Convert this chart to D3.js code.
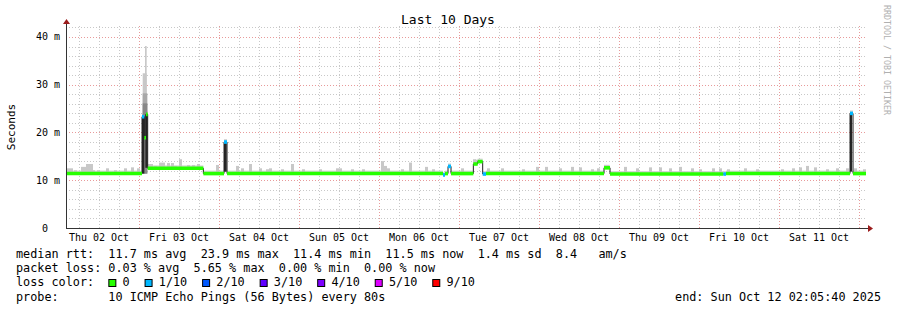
<!DOCTYPE html>
<html>
<head>
<meta charset="utf-8">
<script src="https://cdn.jsdelivr.net/npm/d3@7"></script>
<style>
  body { margin: 0; background: #fff; }
  svg text { font-family: "DejaVu Sans Mono", monospace; white-space: pre; }
</style>
</head>
<body>
<div id="chart"></div>
<script>
// hours are counted from Thu 02 Oct 2025 00:00 (UTC)
const startHour = 2.0944, endHour = 242.0944;
const yTicks = [0, 10, 20, 30, 40];
const yTop = 42.3;

// median rtt (ms) as steps: [hour, ms, loss index]
const medianSteps = [
  [2.09, 11.4, 0], [24.9, 23.3, 1], [25.6, 18.9, 0], [26.1, 23.8, 0], [26.6, 12.5, 0],
  [43.3, 11.4, 0], [49.5, 18.0, 1], [50.4, 11.4, 0], [115.2, 11.1, 1], [115.8, 11.4, 0],
  [116.7, 12.9, 1], [117.6, 11.4, 0], [124.3, 13.4, 0], [125.6, 13.9, 0], [127.1, 11.3, 1],
  [128.1, 11.4, 0], [163.5, 12.6, 0], [165.3, 11.3, 0], [199.3, 11.3, 1], [200.1, 11.4, 0],
  [237.3, 24.0, 1], [238.2, 11.4, 0]
];

// light smoke tops above the median: [hour, ms]
const smokeTops = [
  [2.7, 12.5], [3.6, 12.5], [4.8, 12.1], [6.9, 12.8], [7.8, 12.8], [8.4, 13.4], [9.0, 13.4], [9.6, 13.4],
  [10.2, 12.1], [11.7, 12.1], [14.4, 12.5], [16.8, 12.1], [19.8, 12.5], [21.9, 12.7], [23.7, 12.5],
  [26.7, 13.4], [27.6, 13.4], [28.8, 13.0], [30.3, 13.7], [31.2, 13.7], [32.7, 13.6], [33.9, 13.6],
  [34.8, 13.0], [36.3, 14.4], [38.7, 13.2], [40.2, 13.2], [41.7, 13.4],
  [47.4, 13.2], [53.4, 13.0], [54.9, 12.5], [57.3, 13.4], [60.3, 12.5], [62.4, 12.3],
  [63.3, 12.5], [66.9, 12.3], [69.9, 13.4], [73.2, 12.3], [78.3, 12.3], [83.4, 12.5], [84.3, 12.5],
  [87.9, 12.3], [91.2, 12.3], [96.9, 14.0], [97.8, 13.0], [98.7, 12.5], [102.9, 12.3], [105.3, 13.7],
  [110.1, 12.8], [112.2, 12.3], [120.9, 12.5], [124.6, 14.4], [125.2, 14.3],
  [128.7, 12.5], [132.9, 12.5], [139.2, 12.3], [143.4, 12.8], [146.1, 12.8], [150.3, 12.5], [153.9, 12.8],
  [156.3, 12.7], [159.9, 12.3], [161.7, 12.5], [163.8, 13.2], [164.4, 13.2], [169.8, 12.8], [173.4, 12.5],
  [177.3, 12.7], [180.3, 12.7], [183.3, 12.5], [186.3, 12.8],
  [189.9, 12.5], [192.3, 12.3], [196.2, 12.5], [198.3, 12.5], [200.7, 12.3], [205.8, 12.5], [209.4, 12.3],
  [216.9, 12.3], [220.2, 12.5], [222.3, 12.7], [224.4, 13.0], [226.8, 12.7], [230.4, 12.3], [233.4, 12.5],
  [236.4, 12.5], [238.8, 12.5], [241.5, 12.3]
];

// shaded smoke layers of the big spike: [hour from, hour to, top ms, shade level]
const spikeSmoke = [
  [25.1, 26.3, 32.4, 0], [25.8, 26.3, 38.1, 0], [25.1, 26.5, 28.2, 1], [25.1, 26.5, 26.1, 2]
];

// dark smoke bars: [hour from, hour to, low ms, high ms]
const darkSmoke = [
  [24.9, 25.6, 11.4, 23.3], [25.9, 26.5, 12.6, 23.8], [49.5, 50.3, 11.8, 18.0], [237.3, 237.9, 11.8, 24.0]
];

const lossLabels = ["0", "1/10", "2/10", "3/10", "4/10", "5/10", "9/10"];
const legendLines = [
  "median rtt:  11.7 ms avg  23.9 ms max  11.4 ms min  11.5 ms now  1.4 ms sd  8.4   am/s",
  "packet loss: 0.03 % avg  5.65 % max  0.00 % min  0.00 % now"
];
const probeText = "probe:       10 ICMP Echo Pings (56 Bytes) every 80s";
const endText = "end: Sun Oct 12 02:05:40 2025";

const lossColors = ["#26ff00", "#00b8ff", "#0059ff", "#5e00ff", "#7e00ff", "#dd00ff", "#ff0000"];
const smokeShades = ["#c8c8c8", "#a8a8a8", "#888888"];

const width = 897, height = 310;
const plot = {left: 66, right: 866, top: 26, bottom: 228};
const base = Date.UTC(2025, 9, 2);
const toDate = h => new Date(base + h * 3600e3);

const svg = d3.select("#chart").append("svg")
  .attr("width", width).attr("height", height);

const x = d3.scaleUtc().domain([toDate(startHour), toDate(endHour)]).range([plot.left, plot.right]);
const y = d3.scaleLinear().domain([0, yTop]).range([plot.bottom, plot.top]);
const px = v => Math.round(v) + 0.5;

// grid
const grid = svg.append("g");
const minorY = d3.range(2, yTop, 2).filter(v => v % 10 !== 0);
grid.selectAll(".hmin").data(minorY).enter().append("line")
  .attr("x1", plot.left).attr("x2", plot.right)
  .attr("y1", d => px(y(d))).attr("y2", d => px(y(d)))
  .attr("stroke", "#c8c8c8").attr("stroke-dasharray", "1,2");
const hours6 = d3.utcHour.every(6).range(toDate(startHour), toDate(endHour));
grid.selectAll(".vmin").data(hours6.filter(d => d.getUTCHours() !== 0)).enter().append("line")
  .attr("x1", d => px(x(d))).attr("x2", d => px(x(d)))
  .attr("y1", plot.top).attr("y2", plot.bottom)
  .attr("stroke", "#c8c8c8").attr("stroke-dasharray", "1,2");
grid.selectAll(".hmaj").data(yTicks.filter(v => v > 0)).enter().append("line")
  .attr("x1", plot.left).attr("x2", plot.right)
  .attr("y1", d => px(y(d))).attr("y2", d => px(y(d)))
  .attr("stroke", "#e89a9a").attr("stroke-dasharray", "1,2");
grid.selectAll(".vmaj").data(hours6.filter(d => d.getUTCHours() === 0)).enter().append("line")
  .attr("x1", d => px(x(d))).attr("x2", d => px(x(d)))
  .attr("y1", plot.top).attr("y2", plot.bottom)
  .attr("stroke", "#e89a9a").attr("stroke-dasharray", "1,2");

// median lookup for the smoke bottoms
const stepEnd = (d, i) => i + 1 < medianSteps.length ? medianSteps[i + 1][0] : endHour;
const medianAt = h => medianSteps[Math.max(0, d3.bisector(d => d[0]).right(medianSteps, h) - 1)][1];

// smoke: thin band hugging the median, then the visible spikes
const smoke = svg.append("g");
smoke.selectAll(".b").data(medianSteps).enter().append("rect")
  .attr("x", d => x(toDate(d[0])))
  .attr("width", (d, i) => x(toDate(stepEnd(d, i))) - x(toDate(d[0])))
  .attr("y", d => y(d[1]) - 3)
  .attr("height", 3)
  .attr("fill", "#d6d6d6");
smoke.selectAll(".s").data(smokeTops).enter().append("rect")
  .attr("x", d => Math.round(x(toDate(d[0]))) - 1)
  .attr("width", 3)
  .attr("y", d => y(d[1]))
  .attr("height", d => y(medianAt(d[0])) - y(d[1]))
  .attr("fill", smokeShades[0]);
smoke.selectAll(".sp").data(spikeSmoke).enter().append("rect")
  .attr("x", d => x(toDate(d[0])))
  .attr("width", d => x(toDate(d[1])) - x(toDate(d[0])))
  .attr("y", d => y(d[2]))
  .attr("height", d => y(11.4) - y(d[2]))
  .attr("fill", d => smokeShades[d[3]]);
smoke.selectAll(".dk").data(darkSmoke).enter().append("rect")
  .attr("x", d => x(toDate(d[0])))
  .attr("width", d => Math.max(2, x(toDate(d[1])) - x(toDate(d[0]))))
  .attr("y", d => y(d[3]))
  .attr("height", d => y(d[2]) - y(d[3]))
  .attr("fill", "#262626");

// median: thin dark step line, then loss-coloured thick segments
const stepLine = d3.line().curve(d3.curveStepAfter)
  .x(d => x(toDate(d[0]))).y(d => y(d[1]));
svg.append("path")
  .datum(medianSteps.concat([[endHour, medianSteps[medianSteps.length - 1][1]]]))
  .attr("d", stepLine).attr("fill", "none").attr("stroke", "#202020").attr("stroke-width", 1);
svg.append("g").selectAll("line").data(medianSteps).enter().append("line")
  .attr("x1", d => x(toDate(d[0])))
  .attr("x2", (d, i) => x(toDate(stepEnd(d, i))))
  .attr("y1", d => y(d[1])).attr("y2", d => y(d[1]))
  .attr("stroke", d => lossColors[d[2]]).attr("stroke-width", 3.6);

// axes
const axisColor = "#333", arrowColor = "#9b1c1c";
svg.append("line").attr("x1", plot.left).attr("x2", plot.right + 2)
  .attr("y1", plot.bottom + 0.5).attr("y2", plot.bottom + 0.5).attr("stroke", axisColor);
svg.append("line").attr("x1", plot.left + 0.5).attr("x2", plot.left + 0.5)
  .attr("y1", plot.bottom).attr("y2", plot.top - 3).attr("stroke", axisColor);
svg.append("path").attr("d", `M${plot.right + 2},${plot.bottom - 3}L${plot.right + 7},${plot.bottom + 0.5}L${plot.right + 2},${plot.bottom + 4}Z`)
  .attr("fill", arrowColor);
svg.append("path").attr("d", `M${plot.left - 3},${plot.top - 2}L${plot.left + 0.5},${plot.top - 7}L${plot.left + 4},${plot.top - 2}Z`)
  .attr("fill", arrowColor);

const noons = d3.utcDay.range(toDate(0), toDate(endHour))
  .map(d => d3.utcHour.offset(d, 12))
  .filter(d => x(d) < plot.right);
svg.append("g").selectAll("text").data(noons).enter().append("text")
  .attr("x", d => x(d)).attr("y", 241)
  .attr("text-anchor", "middle").attr("font-size", 10).attr("fill", "#000")
  .text(d3.utcFormat("%a %d %b"));

svg.append("g").selectAll("text").data(yTicks).enter().append("text")
  .attr("x", d => d === 0 ? 48 : 60).attr("y", d => y(d) + 3.5)
  .attr("text-anchor", "end").attr("font-size", 10).attr("fill", "#000")
  .text(d => d === 0 ? "0" : d + " m");

// titles
svg.append("text").attr("x", 448).attr("y", 24).attr("text-anchor", "middle")
  .attr("font-size", 13).attr("fill", "#000").text("Last 10 Days");
svg.append("text").attr("transform", "translate(15,127) rotate(-90)")
  .attr("text-anchor", "middle").attr("font-size", 11).attr("fill", "#000").text("Seconds");
svg.append("text").attr("transform", "translate(884,5) rotate(90)")
  .attr("font-size", 8.3).attr("fill", "#b0b0b0").text("RRDTOOL / TOBI OETIKER");

// legend
const fs = 11.8, cw = fs * 0.602, lx = 16;
const leg = svg.append("g").attr("font-size", fs).attr("fill", "#000");
leg.selectAll(".l").data(legendLines).enter().append("text")
  .attr("x", lx).attr("y", (d, i) => 258 + i * 14.2).text(d => d);
leg.append("text").attr("x", lx).attr("y", 286.4).text("loss color:");
let col = 13;
lossLabels.forEach((lab, i) => {
  leg.append("rect").attr("x", lx + col * cw + 0.5).attr("y", 279.5)
    .attr("width", 7).attr("height", 7)
    .attr("fill", lossColors[i]).attr("stroke", "#000").attr("stroke-width", 1);
  leg.append("text").attr("x", lx + (col + 2) * cw).attr("y", 286.4).text(lab);
  col += 2 + lab.length + 2.1;
});
leg.append("text").attr("x", lx).attr("y", 300.6).text(probeText);
leg.append("text").attr("x", 881).attr("y", 300.6).attr("text-anchor", "end").text(endText);
</script>
</body>
</html>
